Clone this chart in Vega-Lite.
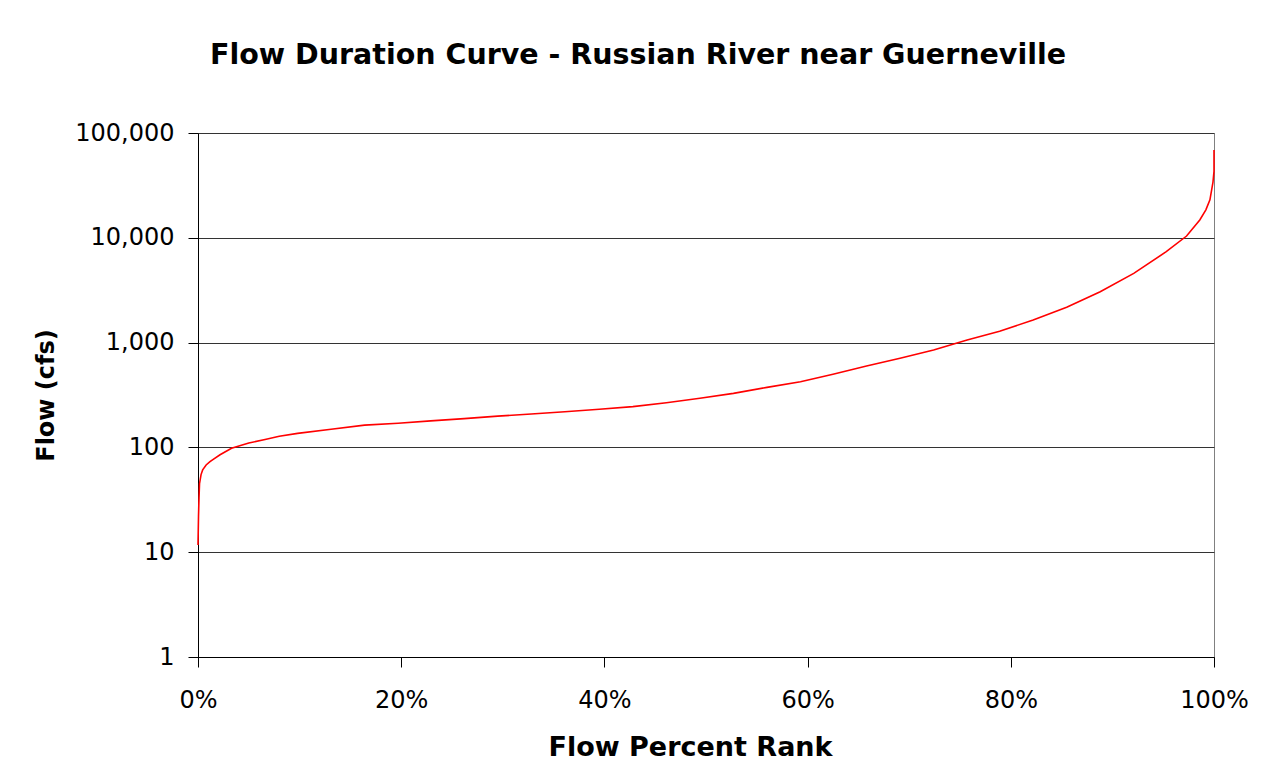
{
  "$schema": "https://vega.github.io/schema/vega-lite/v6.json",
  "width": 1016,
  "height": 524,
  "autosize": {"type": "none"},
  "padding": {"left": 198, "top": 133, "right": 50, "bottom": 121},
  "background": "white",
  "title": {
    "text": "Flow Duration Curve - Russian River near Guerneville",
    "font": "DejaVu Sans",
    "fontSize": 28.5,
    "fontWeight": "bold",
    "color": "black",
    "anchor": "middle",
    "dx": -68,
    "offset": 52
  },
  "config": {
    "view": {"stroke": "#808080", "strokeWidth": 1},
    "font": "DejaVu Sans"
  },
  "data": {
    "values": [
      {"i": 0, "rank": 0, "flow": 11.7},
      {"i": 1, "rank": 0.05, "flow": 22},
      {"i": 2, "rank": 0.1, "flow": 33},
      {"i": 3, "rank": 0.15, "flow": 45},
      {"i": 4, "rank": 0.3, "flow": 55},
      {"i": 5, "rank": 0.46, "flow": 61},
      {"i": 6, "rank": 0.8, "flow": 68},
      {"i": 7, "rank": 1.18, "flow": 73},
      {"i": 8, "rank": 1.5, "flow": 77},
      {"i": 9, "rank": 2.17, "flow": 85},
      {"i": 10, "rank": 3.3, "flow": 98},
      {"i": 11, "rank": 5, "flow": 110},
      {"i": 12, "rank": 6.6, "flow": 119},
      {"i": 13, "rank": 8, "flow": 128},
      {"i": 14, "rank": 9.8, "flow": 136},
      {"i": 15, "rank": 13.1, "flow": 149},
      {"i": 16, "rank": 16.4, "flow": 163},
      {"i": 17, "rank": 19.7, "flow": 170},
      {"i": 18, "rank": 22.9, "flow": 179},
      {"i": 19, "rank": 26.2, "flow": 188},
      {"i": 20, "rank": 29.5, "flow": 199},
      {"i": 21, "rank": 32.8, "flow": 208},
      {"i": 22, "rank": 36.1, "flow": 219},
      {"i": 23, "rank": 39.5, "flow": 231},
      {"i": 24, "rank": 42.8, "flow": 245},
      {"i": 25, "rank": 46.1, "flow": 267},
      {"i": 26, "rank": 49.4, "flow": 294},
      {"i": 27, "rank": 52.7, "flow": 328},
      {"i": 28, "rank": 56.0, "flow": 374},
      {"i": 29, "rank": 59.3, "flow": 423},
      {"i": 30, "rank": 62.5, "flow": 498},
      {"i": 31, "rank": 65.8, "flow": 598},
      {"i": 32, "rank": 69.1, "flow": 708},
      {"i": 33, "rank": 72.4, "flow": 849},
      {"i": 34, "rank": 75.7, "flow": 1059},
      {"i": 35, "rank": 78.9, "flow": 1285},
      {"i": 36, "rank": 82.2, "flow": 1643},
      {"i": 37, "rank": 85.5, "flow": 2173},
      {"i": 38, "rank": 88.8, "flow": 3062},
      {"i": 39, "rank": 92.1, "flow": 4580},
      {"i": 40, "rank": 95.3, "flow": 7370},
      {"i": 41, "rank": 97.3, "flow": 10400},
      {"i": 42, "rank": 98.6, "flow": 14800},
      {"i": 43, "rank": 99.2, "flow": 18500},
      {"i": 44, "rank": 99.6, "flow": 23000},
      {"i": 45, "rank": 99.9, "flow": 34000},
      {"i": 46, "rank": 100, "flow": 43000},
      {"i": 47, "rank": 100, "flow": 68800}
    ]
  },
  "mark": {"type": "line", "color": "#FF0000", "strokeWidth": 1.6, "interpolate": "linear", "clip": false},
  "encoding": {
    "x": {
      "field": "rank",
      "type": "quantitative",
      "scale": {"domain": [0, 100], "nice": false, "zero": false},
      "axis": {
        "title": "Flow Percent Rank",
        "values": [0, 20, 40, 60, 80, 100],
        "labelExpr": "datum.value + '%'",
        "labelFlush": false,
        "grid": false,
        "domainColor": "black",
        "tickColor": "black",
        "tickSize": 10,
        "labelFontSize": 24,
        "labelColor": "black",
        "labelPadding": 21,
        "labelFont": "DejaVu Sans",
        "titleFont": "DejaVu Sans",
        "titleFontSize": 27,
        "titleFontWeight": "bold",
        "titleColor": "black",
        "titlePadding": 22,
        "titleX": 492
      }
    },
    "y": {
      "field": "flow",
      "type": "quantitative",
      "scale": {"type": "log", "domain": [1, 100000], "nice": false},
      "axis": {
        "title": "Flow (cfs)",
        "values": [1, 10, 100, 1000, 10000, 100000],
        "format": ",",
        "labelFlush": false,
        "grid": true,
        "gridColor": "#333333",
        "gridWidth": 1,
        "domainColor": "black",
        "tickColor": "black",
        "tickSize": 10,
        "labelFontSize": 24,
        "labelColor": "black",
        "labelPadding": 14,
        "labelFont": "DejaVu Sans",
        "titleFont": "DejaVu Sans",
        "titleFontSize": 24,
        "titleFontWeight": "bold",
        "titleColor": "black",
        "titlePadding": 16
      }
    },
    "order": {"field": "i", "type": "quantitative"}
  }
}
